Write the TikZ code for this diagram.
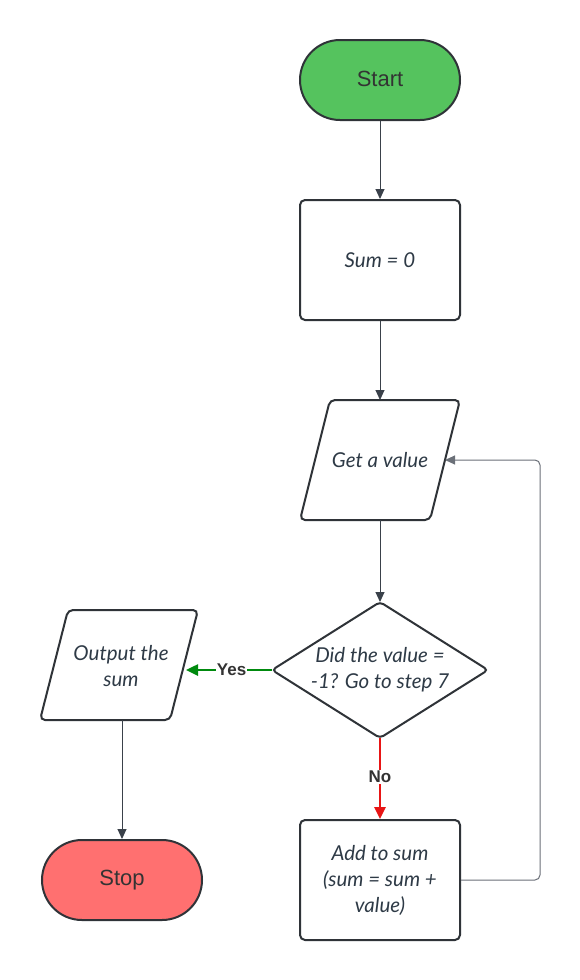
\documentclass[tikz,border=0pt]{standalone}
\usepackage{fontspec}
\setmainfont{Lato}
\newfontfamily\arialf{Liberation Sans}
\usetikzlibrary{arrows.meta}
\definecolor{txt}{HTML}{2E3A46}
\definecolor{border}{HTML}{2F3338}
\definecolor{arrowc}{HTML}{3A414A}
\definecolor{loopc}{HTML}{6B7078}
\definecolor{startg}{HTML}{55C35E}
\definecolor{stopr}{HTML}{FF7070}
\definecolor{yesg}{HTML}{008A0E}
\definecolor{nor}{HTML}{E81515}
\begin{document}
\begin{tikzpicture}[x=1pt,y=-1pt,
  lbl/.style={font=\fontsize{20.5}{26}\selectfont\itshape, text=txt, align=center},
  box/.style={draw=border, line width=2pt, rounded corners=5pt, minimum width=160pt, minimum height=120pt, fill=white, lbl},
  term/.style={draw=border, line width=2pt, rounded corners=40pt, minimum width=160pt, minimum height=80pt, font=\arialf\fontsize{22}{26}\selectfont, text=black!80},
  shapeline/.style={draw=border, line width=2pt, rounded corners=5pt, fill=white},
  flow/.style={-{Triangle[length=10pt,width=9pt]}, line width=1pt, draw=arrowc},
  cflow/.style={-{Triangle[length=12pt,width=11pt]}, line width=2.5pt},
  elabel/.style={font=\arialf\bfseries\fontsize{17}{20}\selectfont, text=black!80, fill=white, inner sep=1pt}
]
\useasboundingbox[fill=white] (0,0) rectangle (580,980);

% terminals and boxes
\node[term, fill=startg] (start) at (380,80) {\raisebox{2pt}{Start}};
\node[box] (sum) at (380,260) {Sum = 0};
\node[box] (add) at (380,880) {Add to sum\\(sum = sum +\\value)};
\node[term, fill=stopr] (stop) at (122,880) {\raisebox{2pt}{Stop}};

% get a value parallelogram
\coordinate (g1) at (330,400);
\coordinate (g2) at (460,400);
\coordinate (g3) at (430,520);
\coordinate (g4) at (300,520);
\draw[shapeline] (g1) -- (g2) -- (g3) -- (g4) -- cycle;
\node[lbl] (get) at (380,460) {Get a value};
\coordinate (getT) at (380,400);
\coordinate (getB) at (380,520);
\coordinate (getR) at (445,460);

% output parallelogram
\coordinate (o1) at (68,610);
\coordinate (o2) at (198,610);
\coordinate (o3) at (170,720);
\coordinate (o4) at (40,720);
\draw[shapeline] (o1) -- (o2) -- (o3) -- (o4) -- cycle;
\node[lbl] (out) at (121,666) {Output the\\sum};
\coordinate (outR) at (186,670);
\coordinate (outB) at (122,720);

% decision diamond
\coordinate (dT) at (380,602);
\coordinate (dR) at (488,670);
\coordinate (dB) at (380,738);
\coordinate (dL) at (272,670);
\draw[draw=border, line width=2pt, rounded corners=4pt, fill=white] (dT) -- (dR) -- (dB) -- (dL) -- cycle;
\node[lbl] (dec) at (380,670) {Did the value =\\-1? Go to step 7};

% connectors
\draw[flow] (start) -- (sum);
\draw[flow] (sum) -- (getT);
\draw[flow] (getB) -- (dT);
\draw[cflow, draw=nor, fill=nor] (dB) -- node[elabel, pos=0.48] {No} (add);
\draw[cflow, draw=yesg, fill=yesg] (dL) -- node[elabel, pos=0.47] {Yes} (outR);
\draw[flow] (outB) -- (stop);
\coordinate (lp1) at (540,880);
\coordinate (lp2) at (540,460);
\draw[flow, draw=loopc, rounded corners=5pt] (add.east) -- (lp1) -- (lp2) -- (getR);
\end{tikzpicture}
\end{document}
